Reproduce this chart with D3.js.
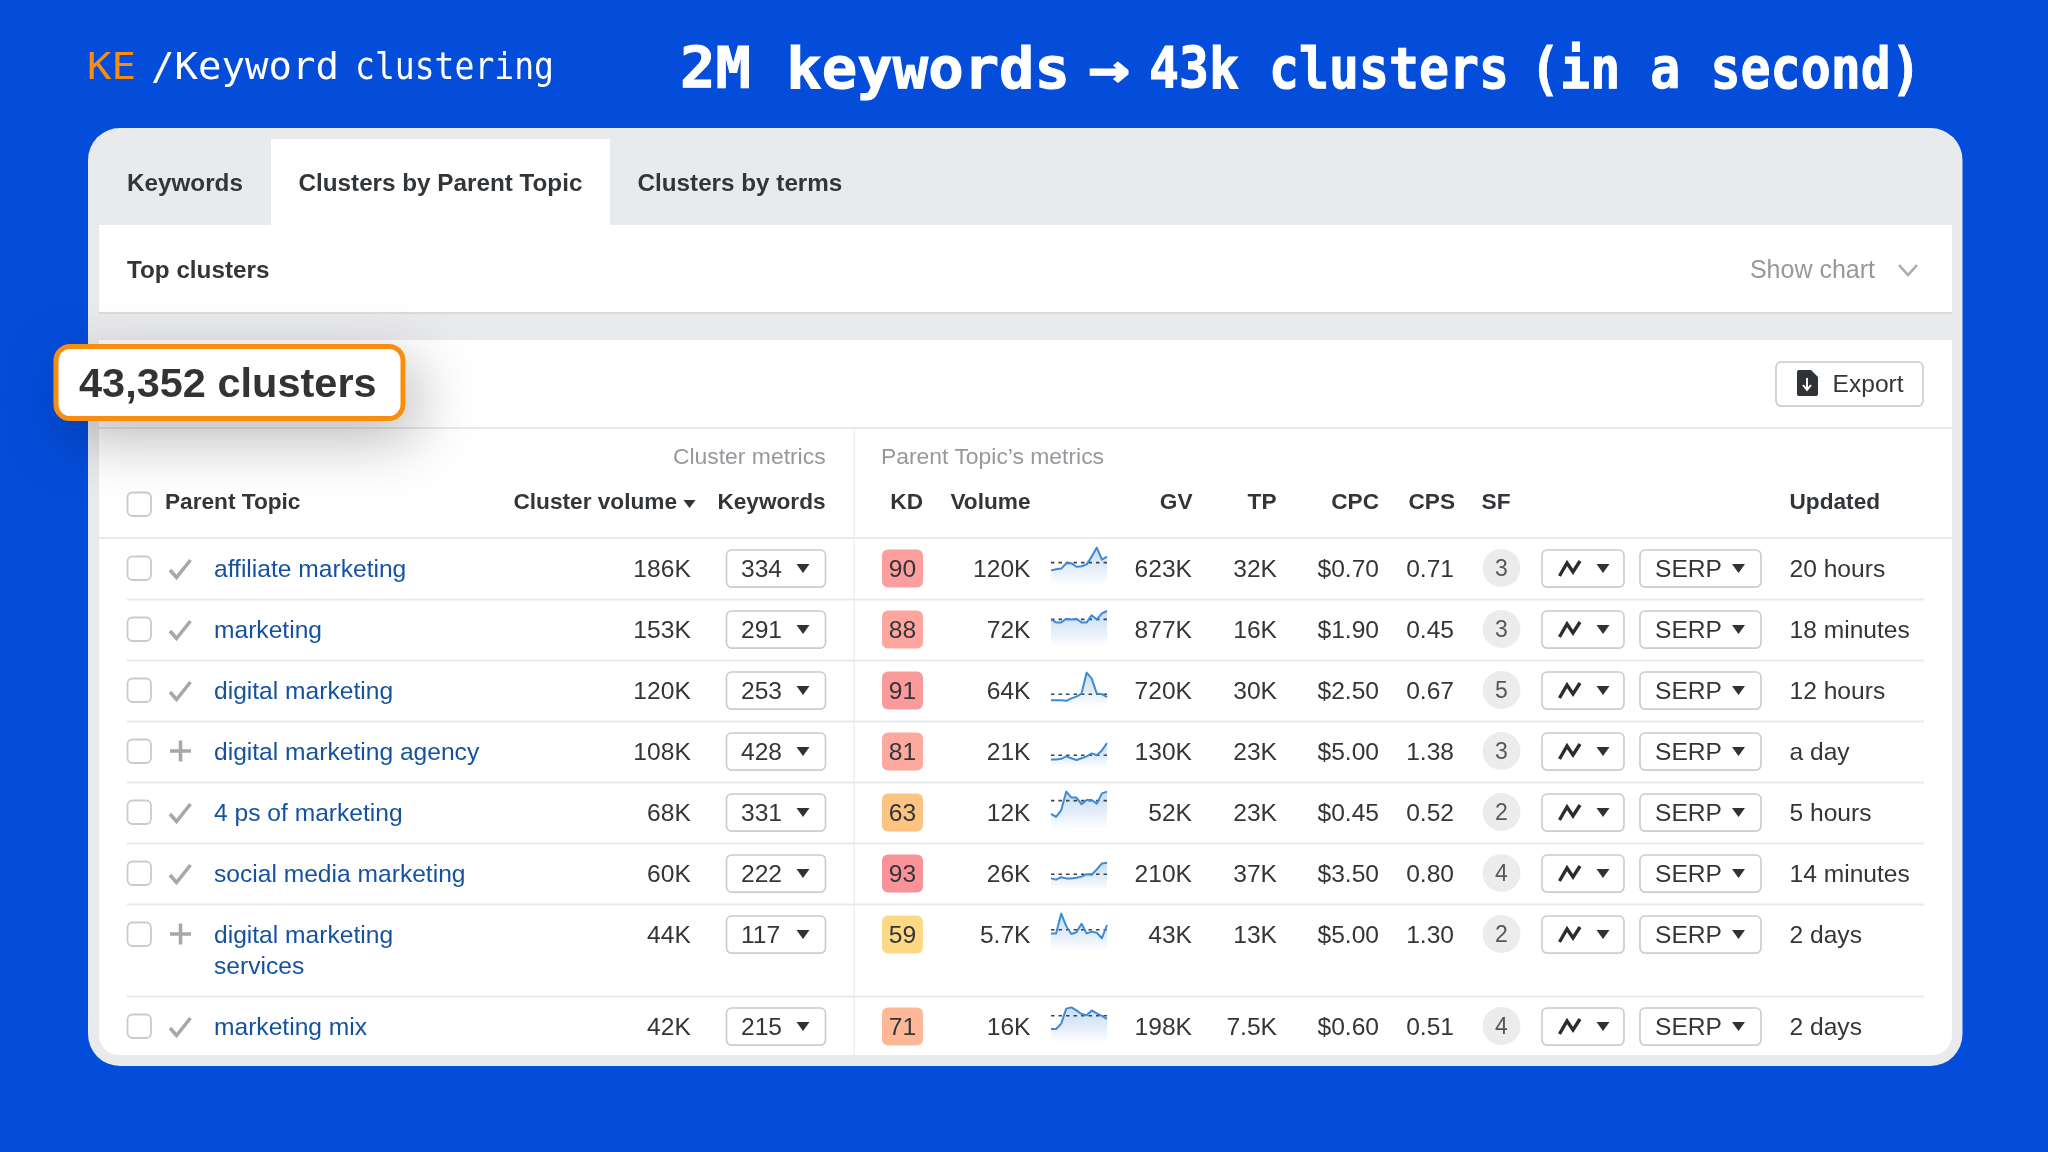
<!DOCTYPE html>
<html>
<head>
<meta charset="utf-8">
<script src="https://cdn.jsdelivr.net/npm/d3@7"></script>
<style>
html,body{margin:0;padding:0;background:#044dda;overflow:hidden}
svg{display:block;filter:blur(0.45px)}
text{font-family:"Liberation Sans",Arial,sans-serif}
</style>
</head>
<body>
<svg id="c" width="2048" height="1152"></svg>
<script>
const tabLabels = ["Keywords", "Clusters by Parent Topic", "Clusters by terms"];
const parentTopics = [["affiliate marketing"], ["marketing"], ["digital marketing"], ["digital marketing agency"], ["4 ps of marketing"], ["social media marketing"], ["digital marketing", "services"], ["marketing mix"]];
const topicStates = ["check", "check", "check", "plus", "check", "check", "plus", "check"];
const clusterVolumes = ["186K", "153K", "120K", "108K", "68K", "60K", "44K", "42K"];
const keywordCounts = [334, 291, 253, 428, 331, 222, 117, 215];
const kdValues = [90, 88, 91, 81, 63, 93, 59, 71];
const volumes = ["120K", "72K", "64K", "21K", "12K", "26K", "5.7K", "16K"];
const gvValues = ["623K", "877K", "720K", "130K", "52K", "210K", "43K", "198K"];
const tpValues = ["32K", "16K", "30K", "23K", "23K", "37K", "13K", "7.5K"];
const cpcValues = ["$0.70", "$1.90", "$2.50", "$5.00", "$0.45", "$3.50", "$5.00", "$0.60"];
const cpsValues = ["0.71", "0.45", "0.67", "1.38", "0.52", "0.80", "1.30", "0.51"];
const sfValues = [3, 3, 5, 3, 2, 4, 2, 4];
const updatedLabels = ["20 hours", "18 minutes", "12 hours", "a day", "5 hours", "14 minutes", "2 days", "2 days"];
const sparkSeries = [
  [46,48,49,58,58,52,53,56,69,84,64,69],
  [66,61,61,67,66,67,61,61,73,66,76,80],
  [33,33,33,32,36,39,44,79,69,44,43,38],
  [36,36,37,41,38,35,38,41,46,43,51,63],
  [47,42,53,84,74,74,63,70,70,64,81,84],
  [41,39,43,41,41,42,44,48,47,56,66,67],
  [51,51,84,63,50,53,67,51,54,52,43,65],
  [45,45,54,79,81,76,70,68,76,71,67,62]
];
const sparkMeans = [59, 66, 43, 43, 69, 48, 57, 67];

const svg = d3.select("#c");
const defs = svg.append("defs");
const shadow = defs.append("filter").attr("id", "badgeShadow").attr("x", "-40%").attr("y", "-80%").attr("width", "190%").attr("height", "320%");
shadow.append("feDropShadow").attr("dx", 12).attr("dy", 18).attr("stdDeviation", 30).attr("flood-color", "#000").attr("flood-opacity", 0.27);
const grad = defs.append("linearGradient").attr("id", "sparkFill").attr("x1", 0).attr("x2", 0).attr("y1", 0).attr("y2", 1);
grad.append("stop").attr("offset", "0").attr("stop-color", "#4b8dd8").attr("stop-opacity", 0.3);
grad.append("stop").attr("offset", "0.55").attr("stop-color", "#4b8dd8").attr("stop-opacity", 0.16);
grad.append("stop").attr("offset", "1").attr("stop-color", "#4b8dd8").attr("stop-opacity", 0);

const INK = "#333639", GRAY = "#95989c", LINK = "#14519f", LINE = "#e8e9eb", BORDER = "#c8cbcf", ORANGE = "#f98d10";

function txt(parent, s, x, y, opt = {}) {
  return parent.append("text").attr("x", x).attr("y", y)
    .attr("font-size", opt.size || 24.6)
    .attr("font-weight", opt.bold ? 700 : 400)
    .attr("fill", opt.fill || INK)
    .attr("text-anchor", opt.anchor || "start")
    .text(s);
}
function caret(parent, cx, cy, w = 13, h = 9, fill = "#2f3236") {
  parent.append("path").attr("fill", fill)
    .attr("d", d3.line()([[cx - w / 2, cy - h / 2], [cx + w / 2, cy - h / 2], [cx, cy + h / 2]]) + "Z");
}
function button(parent, x, y, w, h) {
  parent.append("rect").attr("x", x).attr("y", y + 1).attr("width", w).attr("height", h).attr("rx", 5).attr("fill", "#d4d6d9");
  parent.append("rect").attr("x", x).attr("y", y).attr("width", w).attr("height", h).attr("rx", 5).attr("fill", "#fff").attr("stroke", BORDER).attr("stroke-width", 1.6);
}
function word(parent, s, x, y, len, size, fill, weight, outline = 0) {
  parent.append("text").attr("x", x).attr("y", y).attr("textLength", len).attr("lengthAdjust", "spacingAndGlyphs")
    .attr("font-size", size).attr("font-weight", weight).attr("fill", fill)
    .attr("stroke", outline ? fill : "none").attr("stroke-width", outline)
    .style("font-family", '"DejaVu Sans Mono",monospace').text(s);
}

// Header strip
const head = svg.append("g");
word(head, "KE", 87, 79, 49, 37.7, ORANGE, 400);
word(head, "/Keyword", 151, 79, 188, 37.7, "#fff", 400);
word(head, "clustering", 355, 79, 199, 37.7, "#fff", 400);
word(head, "2M keywords", 680, 87.5, 390, 57, "#fff", 700, 1);
word(head, "→", 1088, 87.5, 42, 57, "#fff", 700, 1);
word(head, "43k clusters", 1149, 87.5, 360, 57, "#fff", 700, 1);
word(head, "(in a second)", 1530, 87.5, 391, 57, "#fff", 700, 1);

// Card
const card = svg.append("g");
card.append("rect").attr("x", 88).attr("y", 128).attr("width", 1874.5).attr("height", 938).attr("rx", 32).attr("fill", "#e9eaec");
card.append("rect").attr("x", 271).attr("y", 139).attr("width", 339).attr("height", 90).attr("fill", "#fff");
card.append("rect").attr("x", 99).attr("y", 225).attr("width", 1853).attr("height", 87).attr("fill", "#fff");
card.append("rect").attr("x", 99).attr("y", 312).attr("width", 1853).attr("height", 2).attr("fill", "#d9dbde");
card.append("rect").attr("x", 99).attr("y", 340).attr("width", 1853).attr("height", 715).attr("rx", 20).attr("fill", "#fff");
card.append("rect").attr("x", 99).attr("y", 340).attr("width", 1853).attr("height", 100).attr("fill", "#fff");
card.append("rect").attr("x", 99).attr("y", 427).attr("width", 1853).attr("height", 2).attr("fill", LINE);
card.append("rect").attr("x", 99).attr("y", 537).attr("width", 1853).attr("height", 2).attr("fill", LINE);
card.append("rect").attr("x", 853.5).attr("y", 429).attr("width", 1.5).attr("height", 626).attr("fill", "#eeeff0");

const tabX = d3.scaleOrdinal().domain(tabLabels).range([127, 298.5, 637.5]);
tabLabels.forEach(t => txt(card, t, tabX(t), 191, { bold: true, size: 24.25 }));
txt(card, "Top clusters", 127, 278, { bold: true, size: 24.25 });
txt(card, "Show chart", 1875, 278, { anchor: "end", fill: GRAY, size: 25 });
card.append("path").attr("d", "M1899,265 L1908,275 L1917,265").attr("fill", "none").attr("stroke", "#a9acaf").attr("stroke-width", 2.6);

button(card, 1776, 362, 147, 44);
card.append("path").attr("fill", "#2f3236").attr("d", "M1799,370 H1811 L1818,377 V394 Q1818,396 1815,396 H1799 Q1797,396 1797,394 V372 Q1797,370 1799,370Z");
card.append("path").attr("fill", "none").attr("stroke", "#fff").attr("stroke-width", 2).attr("d", "M1807,378 V389 M1803,385 L1807,390 L1811,385");
txt(card, "Export", 1832.5, 392);

// Table heading
const th = svg.append("g");
txt(th, "Cluster metrics", 825.6, 464, { anchor: "end", fill: GRAY, size: 22.9 });
txt(th, "Parent Topic’s metrics", 881, 464, { fill: GRAY, size: 22.9 });
th.append("rect").attr("x", 127.5).attr("y", 492.5).attr("width", 23.5).attr("height", 23.5).attr("rx", 5).attr("fill", "#fff").attr("stroke", BORDER).attr("stroke-width", 1.8);
const H = { bold: true, size: 22.65 }, HY = 508.5;
txt(th, "Parent Topic", 165, HY, H);
txt(th, "Cluster volume", 677, HY, { ...H, anchor: "end" });
caret(th, 689.5, 504, 12, 8);
txt(th, "Keywords", 825.6, HY, { ...H, anchor: "end" });
txt(th, "KD", 923, HY, { ...H, anchor: "end" });
txt(th, "Volume", 1030.5, HY, { ...H, anchor: "end" });
txt(th, "GV", 1192.5, HY, { ...H, anchor: "end" });
txt(th, "TP", 1276.5, HY, { ...H, anchor: "end" });
txt(th, "CPC", 1379, HY, { ...H, anchor: "end" });
txt(th, "CPS", 1455, HY, { ...H, anchor: "end" });
txt(th, "SF", 1510.5, HY, { ...H, anchor: "end" });
txt(th, "Updated", 1789.5, HY, H);

// Rows: a row grows by one text line whenever its topic wraps
const ROW = 61, WRAP = 31;
const rowCenters = [];
parentTopics.reduce((y, lines) => { rowCenters.push(y); return y + ROW + (lines.length - 1) * WRAP; }, 568);
const kdColor = d3.scaleLinear().domain([59, 63, 71, 81, 88, 93]).range(["#fed985", "#fdc380", "#feb898", "#fda99f", "#fca69f", "#fa9299"]);
const sparkX = d3.scaleLinear().domain([0, 11]).range([1051, 1107]);
const sparkY = d3.scaleLinear().domain([0, 100]).range([30, -30]);
const sparkFloor = 17;

const rows = svg.selectAll("g.row").data(parentTopics).join("g").attr("class", "row")
  .attr("transform", (d, i) => `translate(0,${rowCenters[i]})`);

rows.each(function (lines, i) {
  const g = d3.select(this), B = 9;
  if (i < parentTopics.length - 1) {
    const bottom = rowCenters[i + 1] - rowCenters[i] - 30.5;
    g.append("rect").attr("x", 127).attr("y", bottom).attr("width", 1797).attr("height", 2).attr("fill", LINE);
  }
  g.append("rect").attr("x", 127.5).attr("y", -11.5).attr("width", 23.5).attr("height", 23.5).attr("rx", 5).attr("fill", "#fff").attr("stroke", BORDER).attr("stroke-width", 1.8);
  const mark = topicStates[i] === "check" ? "M170,2 L176.5,9.5 L190.5,-8" : "M180.5,-10.5 V10.5 M170,0 H191";
  g.append("path").attr("d", mark).attr("fill", "none").attr("stroke", "#a6a8ab").attr("stroke-width", 3.6);
  lines.forEach((s, k) => txt(g, s, 214, B + k * WRAP, { fill: LINK }));
  txt(g, clusterVolumes[i], 690.8, B, { anchor: "end" });

  button(g, 726.5, -18, 99, 37);
  txt(g, keywordCounts[i], 741, B);
  caret(g, 803, 0.5);

  g.append("rect").attr("x", 882).attr("y", -18.5).attr("width", 41).attr("height", 38).attr("rx", 6).attr("fill", kdColor(kdValues[i]));
  txt(g, kdValues[i], 902.5, B, { anchor: "middle" });

  txt(g, volumes[i], 1030.5, B, { anchor: "end" });
  const sp = sparkSeries[i];
  const area = d3.area().x((d, k) => sparkX(k)).y0(sparkFloor).y1(d => sparkY(d));
  const line = d3.line().x((d, k) => sparkX(k)).y(d => sparkY(d));
  g.append("path").attr("d", area(sp)).attr("fill", "url(#sparkFill)");
  g.append("line").attr("x1", sparkX(0)).attr("x2", sparkX(11)).attr("y1", sparkY(sparkMeans[i])).attr("y2", sparkY(sparkMeans[i]))
    .attr("stroke", "#3f4245").attr("stroke-width", 1.6).attr("stroke-dasharray", "3.5 4");
  g.append("path").attr("d", line(sp)).attr("fill", "none").attr("stroke", "#3d8bd6").attr("stroke-width", 2).attr("stroke-linejoin", "round");

  txt(g, gvValues[i], 1192, B, { anchor: "end" });
  txt(g, tpValues[i], 1277, B, { anchor: "end" });
  txt(g, cpcValues[i], 1379, B, { anchor: "end" });
  txt(g, cpsValues[i], 1454, B, { anchor: "end" });

  g.append("ellipse").attr("cx", 1501.5).attr("cy", 0).attr("rx", 19).attr("ry", 19).attr("fill", "#ececec");
  txt(g, sfValues[i], 1501.5, B - 1.5, { anchor: "middle", size: 23, fill: "#55585b" });

  button(g, 1542, -18, 82, 37);
  g.append("path").attr("d", "M1559.5,8 L1567,-5 L1573,4 L1580,-7").attr("fill", "none").attr("stroke", "#2a2d30").attr("stroke-width", 3.4).attr("stroke-linejoin", "miter");
  caret(g, 1603, 0.5);
  button(g, 1640, -18, 121, 37);
  txt(g, "SERP", 1655, B);
  caret(g, 1738.5, 0.5);

  txt(g, updatedLabels[i], 1789.5, B);
});

// Badge on top of everything
const badge = svg.append("g");
badge.append("rect").attr("x", 56).attr("y", 346.5).attr("width", 347).attr("height", 72).attr("rx", 14)
  .attr("fill", "#fff").attr("stroke", ORANGE).attr("stroke-width", 5).attr("filter", "url(#badgeShadow)");
txt(badge, "43,352 clusters", 79, 397, { bold: true, size: 41.5, fill: "#333" });
</script>
</body>
</html>
